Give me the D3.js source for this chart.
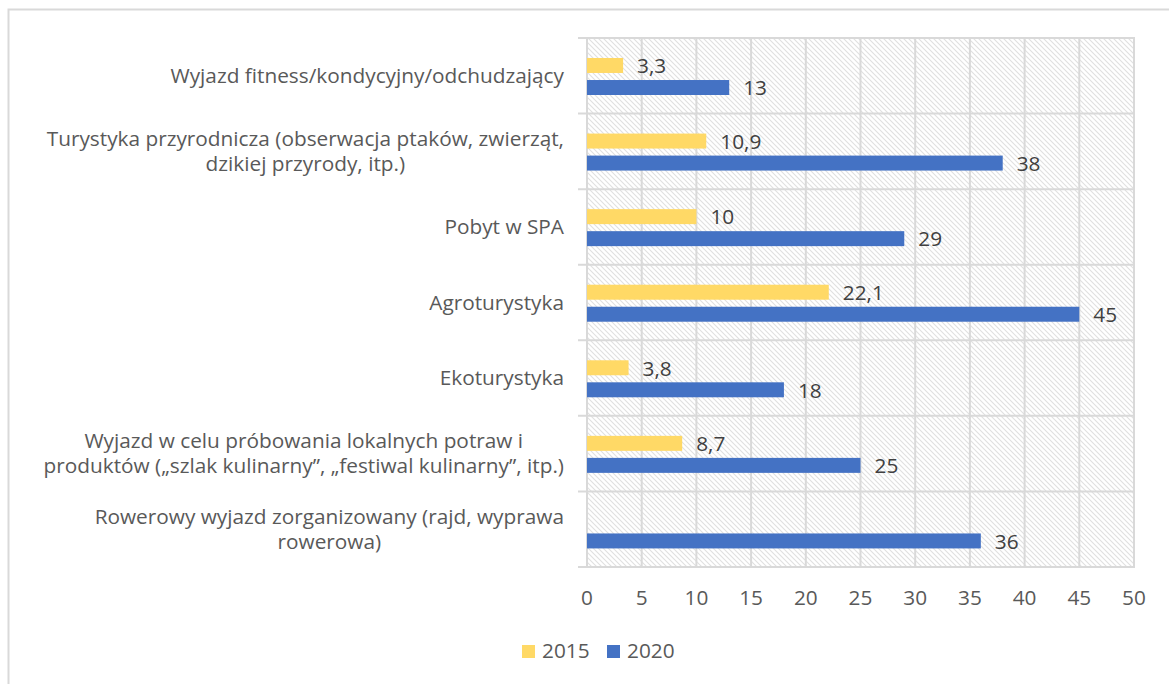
<!DOCTYPE html>
<html>
<head>
<meta charset="utf-8">
<script src="https://cdn.jsdelivr.net/npm/d3@7"></script>
<style>
  body { margin: 0; background: #fff; }
  svg { font-family: "Open Sans", "Noto Sans", sans-serif; }
</style>
</head>
<body>
<div id="chart"></div>
<script>
// categories, top to bottom
const categories = [
    "Wyjazd fitness/kondycyjny/odchudzający",
    "Turystyka przyrodnicza (obserwacja ptaków, zwierząt,|dzikiej przyrody, itp.)",
    "Pobyt w SPA",
    "Agroturystyka",
    "Ekoturystyka",
    "Wyjazd w celu próbowania lokalnych potraw i|produktów („szlak kulinarny”, „festiwal kulinarny”, itp.)",
    "Rowerowy wyjazd zorganizowany (rajd, wyprawa|rowerowa)"
];
const values2015 = [3.3, 10.9, 10, 22.1, 3.8, 8.7, null];
const values2020 = [13, 38, 29, 45, 18, 25, 36];
const seriesNames = ["2015", "2020"];
const seriesColors = ["#FFD966", "#4472C4"];
const xTicks = [0, 5, 10, 15, 20, 25, 30, 35, 40, 45, 50];

const width = 1169, height = 684;
const fontSize = 20.8;
const svg = d3.select("#chart").append("svg")
    .attr("width", width)
    .attr("height", height);

// outer chart border
svg.append("rect")
    .attr("x", 8.5).attr("y", 9.5)
    .attr("width", 1200).attr("height", 700)
    .attr("fill", "none")
    .attr("stroke", "#d9d9d9")
    .attr("stroke-width", 2);

// hatch pattern for plot background
const defs = svg.append("defs");
const pat = defs.append("pattern")
    .attr("id", "hatch")
    .attr("patternUnits", "userSpaceOnUse")
    .attr("width", 5).attr("height", 5);
pat.append("path")
    .attr("d", "M-1,-1 L6,6 M-1,4 L1,6 M4,-1 L6,1")
    .attr("stroke", "#e0e0e0")
    .attr("stroke-width", 1.1);

const x = d3.scaleLinear().domain([0, 50]).range([587, 1134]);
const y = d3.scaleBand().domain(categories).range([38, 567]);
const ySub = d3.scaleBand().domain(seriesNames).range([20, 57]).paddingInner(0.32);

svg.append("rect")
    .attr("x", x(0)).attr("y", 38)
    .attr("width", x(50) - x(0)).attr("height", 567 - 38)
    .attr("fill", "url(#hatch)");

// vertical gridlines
svg.append("g")
    .selectAll("line")
    .data(xTicks)
    .join("line")
    .attr("x1", d => x(d)).attr("x2", d => x(d))
    .attr("y1", 38).attr("y2", 567)
    .attr("stroke", "#d9d9d9")
    .attr("stroke-width", 2);

// horizontal category boundaries (with outward ticks)
const bounds = categories.map(c => y(c)).concat([567]);
svg.append("g")
    .selectAll("line")
    .data(bounds)
    .join("line")
    .attr("x1", 578).attr("x2", x(50) + 1)
    .attr("y1", d => d).attr("y2", d => d)
    .attr("stroke", "#d9d9d9")
    .attr("stroke-width", 2);

// bars
const rows = categories.map((c, i) => ({ cat: c, vals: [values2015[i], values2020[i]] }));
const groups = svg.append("g")
    .selectAll("g")
    .data(rows)
    .join("g")
    .attr("transform", d => `translate(0,${y(d.cat)})`);

groups.each(function (d) {
    const g = d3.select(this);
    d.vals.forEach((v, j) => {
        if (v == null) return;
        const s = seriesNames[j];
        g.append("rect")
            .attr("x", x(0))
            .attr("y", ySub(s))
            .attr("width", x(v) - x(0))
            .attr("height", ySub.bandwidth())
            .attr("fill", seriesColors[j]);
        g.append("text")
            .attr("x", x(v) + 14)
            .attr("y", ySub(s) + ySub.bandwidth() / 2 + 0.5)
            .attr("dy", "0.35em")
            .attr("font-size", fontSize)
            .attr("fill", "#404040")
            .text(String(v).replace(".", ","));
    });
});

// category labels: block right-aligned, lines centered within the block
const labelRight = 564;
categories.forEach(c => {
    const lines = c.split("|");
    const cy = y(c) + y.bandwidth() / 2;
    const lh = 25;
    const t = svg.append("text")
        .attr("font-size", fontSize)
        .attr("fill", "#595959");
    const tspans = lines.map((ln, k) => t.append("tspan")
        .attr("y", cy + (k - (lines.length - 1) / 2) * lh)
        .attr("dy", "0.35em")
        .text(ln));
    const widths = tspans.map(ts => ts.node().getComputedTextLength());
    const blockW = d3.max(widths);
    tspans.forEach((ts, k) => ts.attr("x", labelRight - blockW / 2 - widths[k] / 2));
});

// x tick labels
svg.append("g")
    .selectAll("text")
    .data(xTicks)
    .join("text")
    .attr("x", d => x(d))
    .attr("y", 605)
    .attr("text-anchor", "middle")
    .attr("font-size", fontSize)
    .attr("fill", "#595959")
    .text(d => d);

// legend
const legend = svg.append("g");
const legendX = [522, 607];
seriesNames.forEach((s, i) => {
    legend.append("rect")
        .attr("x", legendX[i]).attr("y", 645)
        .attr("width", 13).attr("height", 13)
        .attr("fill", seriesColors[i]);
    legend.append("text")
        .attr("x", legendX[i] + 20).attr("y", 658)
        .attr("font-size", fontSize)
        .attr("fill", "#595959")
        .text(s);
});
</script>
</body>
</html>
